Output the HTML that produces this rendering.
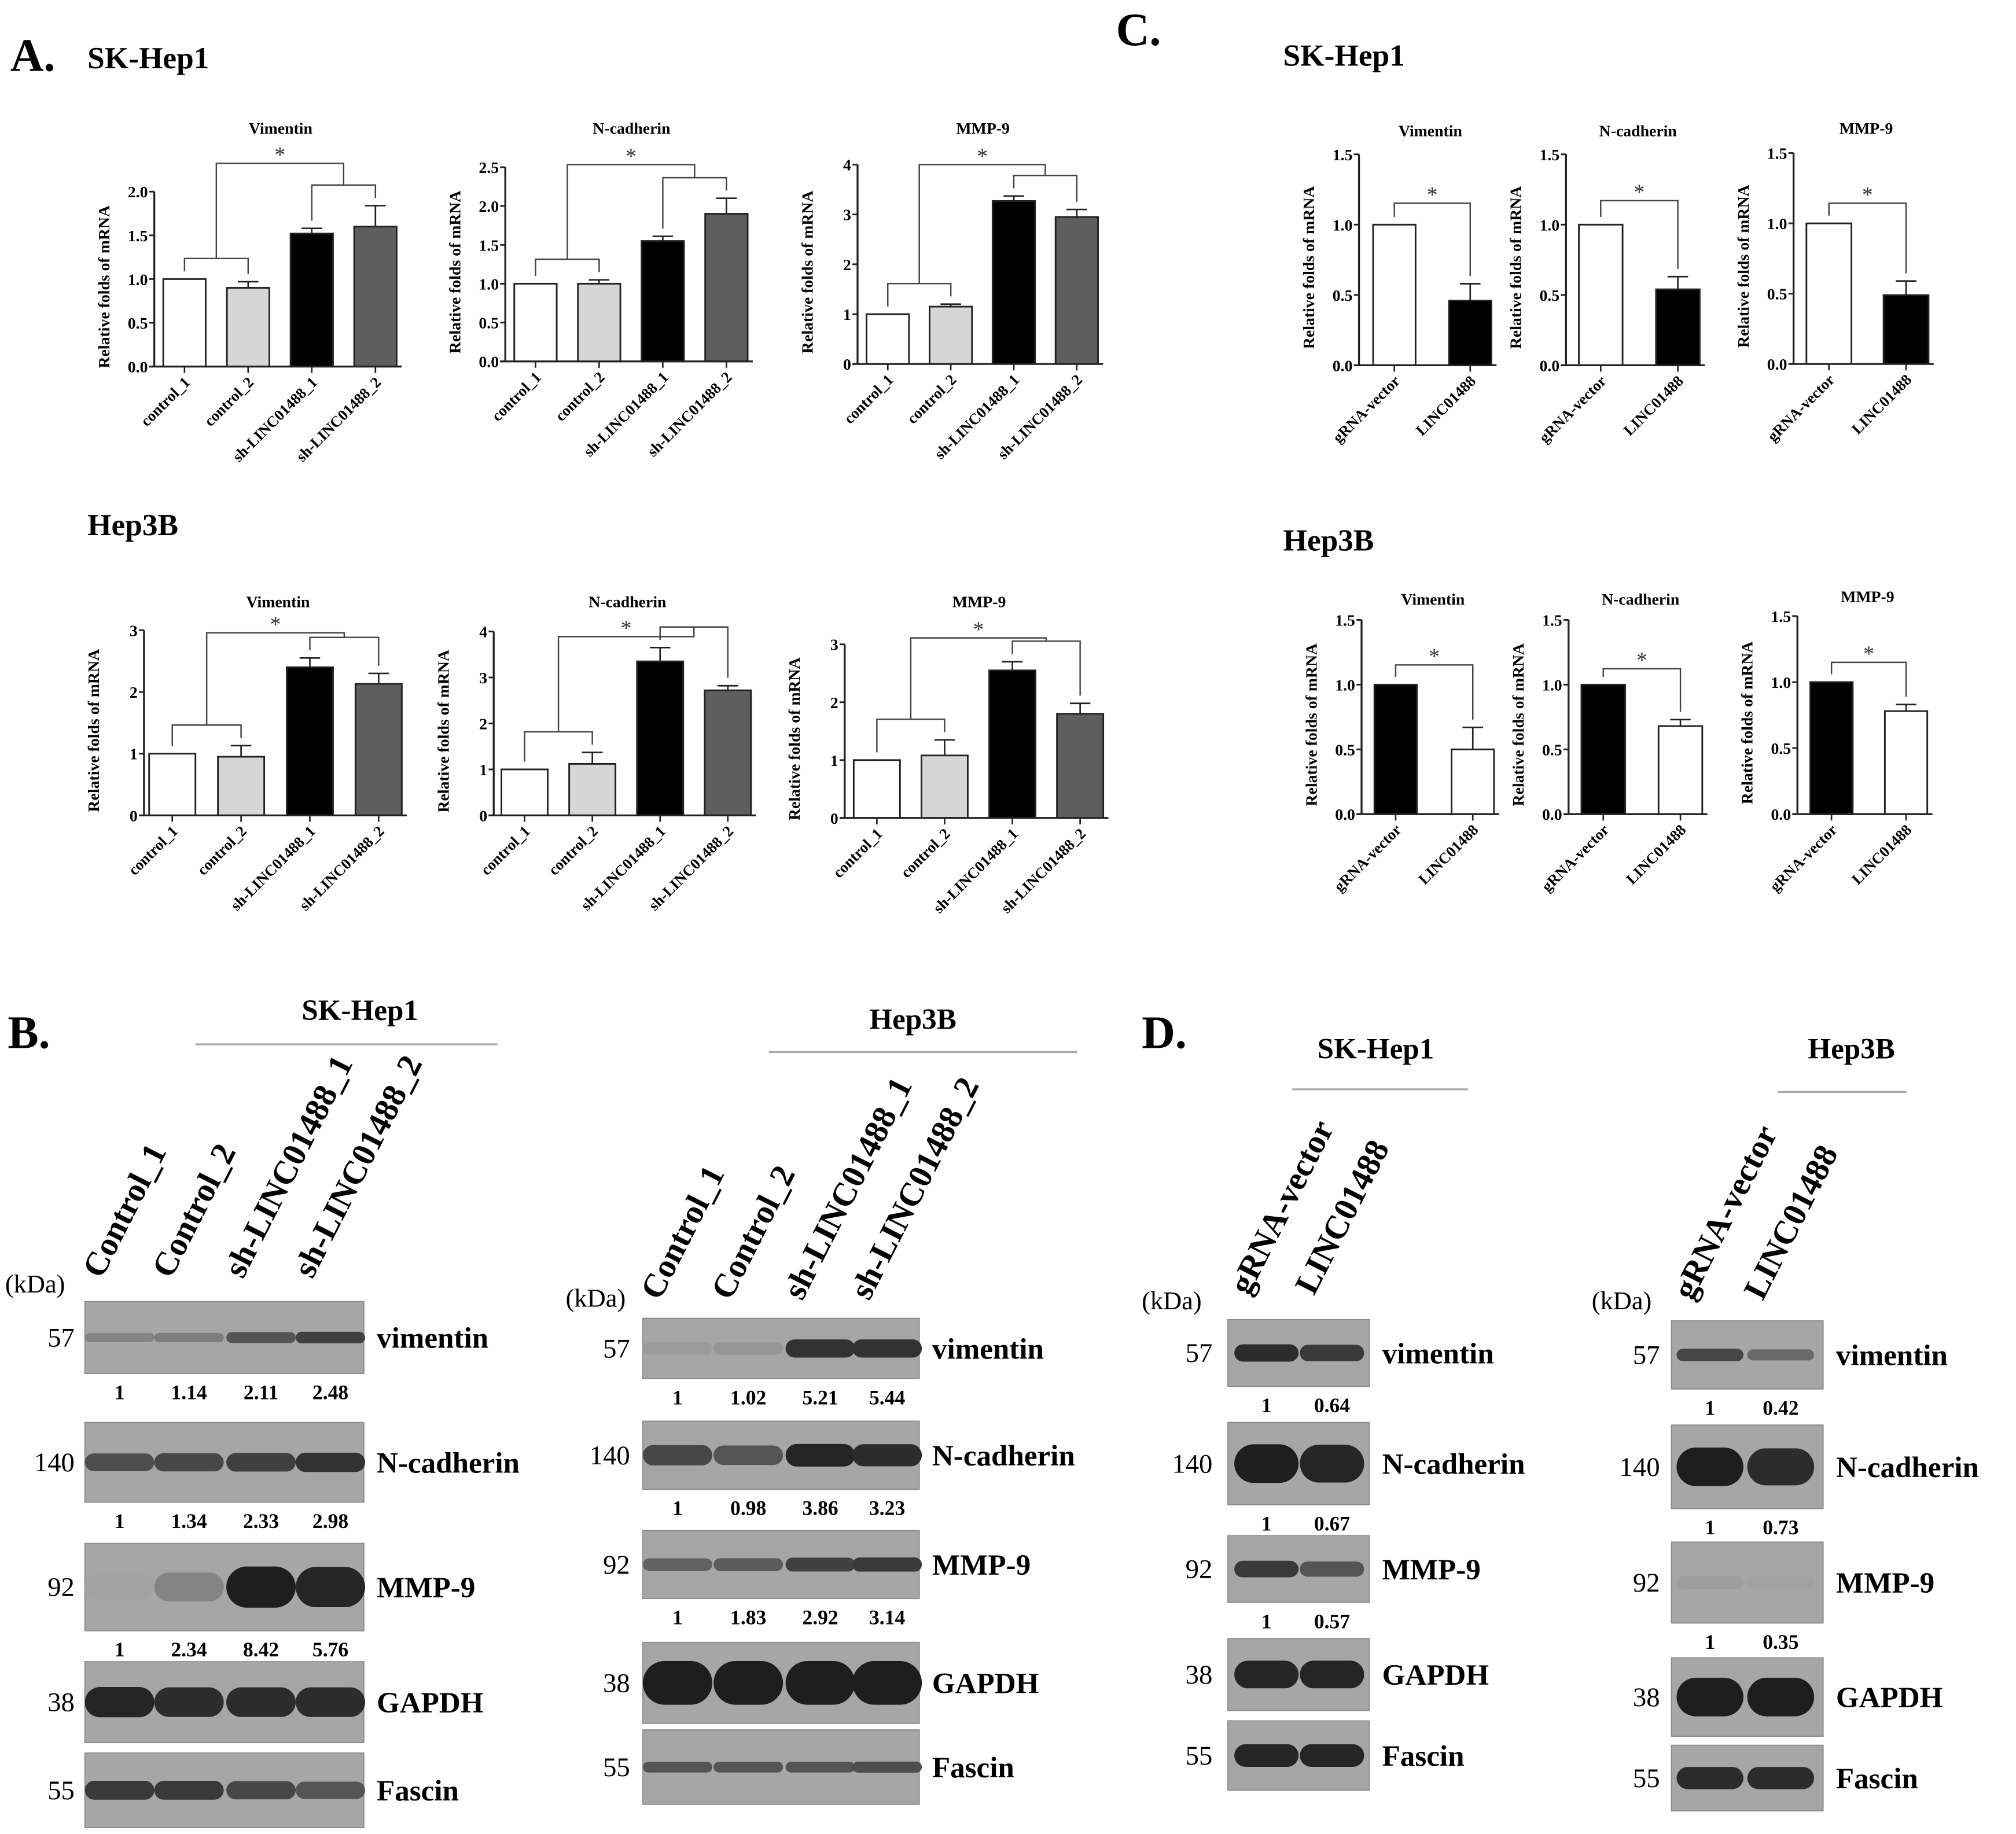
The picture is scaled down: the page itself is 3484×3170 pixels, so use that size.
<!DOCTYPE html>
<html><head><meta charset="utf-8"><style>
html,body{margin:0;padding:0;background:#fff}
svg{display:block}
text{font-family:"Liberation Serif",serif}
</style></head><body>
<svg id="fig" xmlns="http://www.w3.org/2000/svg" width="3484" height="3170" viewBox="0 0 1568 1426" preserveAspectRatio="none">
<g id="root"></g>
</svg>
<script>
// ---- Chart data (panel A) ----
const catsA = ["control_1","control_2","sh-LINC01488_1","sh-LINC01488_2"];
const fillsA = ["#ffffff","#d6d6d6","#000000","#5e5e5e"];
const skVimVals = [1.0, 0.90, 1.52, 1.60];
const skVimErr = [0.0, 0.07, 0.06, 0.24];
const skNcadVals = [1.0, 1.0, 1.55, 1.90];
const skNcadErr = [0.0, 0.05, 0.06, 0.20];
const skMmpVals = [1.0, 1.15, 3.27, 2.95];
const skMmpErr = [0.0, 0.05, 0.10, 0.15];
const h3Vim = [1.0, 0.95, 2.40, 2.13];
const h3VimErr = [0.0, 0.18, 0.15, 0.17];
const h3Ncad = [1.0, 1.12, 3.35, 2.72];
const h3NcadErr = [0.0, 0.25, 0.30, 0.10];
const h3Mmp = [1.0, 1.08, 2.55, 1.80];
const h3MmpErr = [0.0, 0.27, 0.15, 0.18];
const ticks20 = [0,0.5,1.0,1.5,2.0];
const ticks25 = [0,0.5,1.0,1.5,2.0,2.5];
const ticks4 = [0,1,2,3,4];
const ticks3 = [0,1,2,3];
const ticks15 = [0,0.5,1.0,1.5];
// ---- Chart data (panel C) ----
const catsC = ["gRNA-vector","LINC01488"];
const cSkVim = [1.0, 0.46];
const cSkVimErr = [0, 0.12];
const cSkNcad = [1.0, 0.54];
const cSkNcadErr = [0, 0.09];
const cSkMmp = [1.0, 0.49];
const cSkMmpErr = [0, 0.10];
const cH3Vim = [1.0, 0.50];
const cH3VimErr = [0, 0.17];
const cH3Ncad = [1.0, 0.68];
const cH3NcadErr = [0, 0.05];
const cH3Mmp = [1.0, 0.78];
const cH3MmpErr = [0, 0.05];
// ---- Blot quantification ----
const bSkVim = ["1","1.14","2.11","2.48"];
const bSkNcad = ["1","1.34","2.33","2.98"];
const bSkMmp = ["1","2.34","8.42","5.76"];
const bH3Vim = ["1","1.02","5.21","5.44"];
const bH3Ncad = ["1","0.98","3.86","3.23"];
const bH3Mmp = ["1","1.83","2.92","3.14"];
const dSkVim = ["1","0.64"];
const dSkNcad = ["1","0.67"];
const dSkMmp = ["1","0.57"];
const dH3Vim = ["1","0.42"];
const dH3Ncad = ["1","0.73"];
const dH3Mmp = ["1","0.35"];
// band darkness (0..1) per lane
const bandSkVim = [0.25,0.3,0.6,0.75];
const bandSkNcad = [0.65,0.7,0.75,0.85];
const bandSkMmp = [0.02,0.25,1,0.95];
const bandSkGapdh = [0.95,0.9,0.9,0.9];
const bandSkFascin = [0.8,0.8,0.7,0.6];
const bandH3Vim = [0.08,0.12,0.85,0.85];
const bandH3Ncad = [0.7,0.6,0.95,0.9];
const bandH3Mmp = [0.5,0.55,0.75,0.8];
const bandH3Gapdh = [1,1,1,1];
const bandH3Fascin = [0.6,0.6,0.6,0.65];
const bandDSkVim = [0.9,0.8];
const bandDSkNcad = [1,0.95];
const bandDSkMmp = [0.8,0.6];
const bandDSkGapdh = [0.95,0.95];
const bandDSkFascin = [0.95,0.95];
const bandDH3Vim = [0.7,0.45];
const bandDH3Ncad = [1,0.9];
const bandDH3Mmp = [0.06,0.03];
const bandDH3Gapdh = [1,1];
const bandDH3Fascin = [0.9,0.9];

const NS="http://www.w3.org/2000/svg";
const root=document.getElementById('root');
function mk(tag,attrs,parent){const e=document.createElementNS(NS,tag);for(const k in attrs)e.setAttribute(k,attrs[k]);(parent||root).appendChild(e);return e;}
function txt(s,x,y,size,opts,parent){opts=opts||{};const a={x:x,y:y,'font-size':size,'font-weight':opts.bold?'bold':'normal','text-anchor':opts.anchor||'start',fill:opts.fill||'#000'};if(opts.rot!==undefined)a.transform='rotate('+opts.rot+' '+x+' '+y+')';const t=mk('text',a,parent);t.textContent=s;return t;}

function chart(name,cfg){
  const g=mk('g',{});
  
  
  const ymax=cfg.ticks[cfg.ticks.length-1];
  const Y=v=>cfg.y0-v/ymax*(cfg.y0-cfg.yTop);
  const X=i=>cfg.bx0+i*cfg.gap;
  const n=cfg.vals.length;
  const xEnd=X(n-1)+cfg.bw+4;
  for(let i=0;i<n;i++){
    const r=mk('rect',{x:X(i),y:Y(cfg.vals[i]),width:cfg.bw,height:cfg.y0-Y(cfg.vals[i]),fill:cfg.fills[i],stroke:'#222','stroke-width':1.3},g);
    
    
    if(cfg.errs[i]>0){
      const cx=X(i)+cfg.bw/2,t=Y(cfg.vals[i]+cfg.errs[i]);
      mk('line',{x1:cx,x2:cx,y1:Y(cfg.vals[i]),y2:t,stroke:'#222','stroke-width':1.2},g);
      mk('line',{x1:cx-8,x2:cx+8,y1:t,y2:t,stroke:'#222','stroke-width':1.2},g);
    }
    const cx=X(i)+cfg.bw/2;
    mk('line',{x1:cx,x2:cx,y1:cfg.y0,y2:cfg.y0+5,stroke:'#222','stroke-width':1.2},g);
    const lx=cx+5,ly=cfg.y0+13;
    const l=txt(cfg.cats[i],lx,ly,cfg.catSize||12,{bold:true,anchor:'end',rot:-45},g);
    
    
  }
  mk('line',{x1:cfg.ax,x2:cfg.ax,y1:cfg.yTop,y2:cfg.y0,stroke:'#222','stroke-width':1.5},g);
  mk('line',{x1:cfg.ax-4,x2:xEnd,y1:cfg.y0,y2:cfg.y0,stroke:'#222','stroke-width':1.5},g);
  cfg.ticks.forEach(t=>{
    mk('line',{x1:cfg.ax-4,x2:cfg.ax,y1:Y(t),y2:Y(t),stroke:'#222','stroke-width':1.3},g);
    txt(cfg.dec?t.toFixed(1):String(t),cfg.ax-5,Y(t)+4.5,12.5,{bold:true,anchor:'end'},g);
  });
  const yt=txt('Relative folds of mRNA',cfg.ax-35,(cfg.y0+cfg.yTop)/2+6,12.5,{bold:true,anchor:'middle',rot:-90},g);
  
  
  const tt=txt(cfg.title,(cfg.ax+xEnd)/2+2,cfg.titleY,12.5,{bold:true,anchor:'middle'},g);
  
  
  const top=i=>Y(cfg.vals[i]+cfg.errs[i])-6;
  const st='#444';
  const c=i=>X(i)+cfg.bw/2;
  if(n===4){
    const l1=Math.min(top(0),top(1))-10, l2=Math.min(top(2),top(3))-10;
    mk('polyline',{points:`${c(0)},${top(0)} ${c(0)},${l1} ${c(1)},${l1} ${c(1)},${top(1)}`,fill:'none',stroke:st,'stroke-width':1.1},g);
    mk('polyline',{points:`${c(2)},${top(2)} ${c(2)},${l2} ${c(3)},${l2} ${c(3)},${top(3)}`,fill:'none',stroke:st,'stroke-width':1.1},g);
    const m1=(c(0)+c(1))/2,m2=(c(2)+c(3))/2,lt=cfg.sigY;
    mk('polyline',{points:`${m1},${l1} ${m1},${lt} ${m2},${lt} ${m2},${l2}`,fill:'none',stroke:st,'stroke-width':1.1},g);
    txt('*',(m1+m2)/2,lt-1,17,{anchor:'middle',fill:'#333'},g);
  } else {
    const lt=cfg.sigY;
    mk('polyline',{points:`${c(0)},${top(0)} ${c(0)},${lt} ${c(1)},${lt} ${c(1)},${top(1)}`,fill:'none',stroke:st,'stroke-width':1.1},g);
    txt('*',(c(0)+c(1))/2,lt-1,17,{anchor:'middle',fill:'#333'},g);
  }
}

chart('chart-a-skhep1-vimentin',{ax:120,y0:285,yTop:149,ticks:ticks20,dec:true,bx0:127,bw:33,gap:49.5,vals:skVimVals,errs:skVimErr,fills:fillsA,cats:catsA,title:'Vimentin',titleY:104,sigY:127});
chart('chart-a-skhep1-ncadherin',{ax:393,y0:281,yTop:130,ticks:ticks25,dec:true,bx0:400,bw:33,gap:49.5,vals:skNcadVals,errs:skNcadErr,fills:fillsA,cats:catsA,title:'N-cadherin',titleY:104,sigY:128});
chart('chart-a-skhep1-mmp9',{ax:667,y0:283,yTop:128,ticks:ticks4,dec:false,bx0:674,bw:33,gap:49,vals:skMmpVals,errs:skMmpErr,fills:fillsA,cats:catsA,title:'MMP-9',titleY:104,sigY:128});
chart('chart-a-hep3b-vimentin',{ax:112,y0:634,yTop:490,ticks:ticks3,dec:false,bx0:116,bw:36,gap:53.5,vals:h3Vim,errs:h3VimErr,fills:fillsA,cats:catsA,title:'Vimentin',titleY:472,sigY:492});
chart('chart-a-hep3b-ncadherin',{ax:384,y0:634,yTop:491,ticks:ticks4,dec:false,bx0:390,bw:36,gap:52.7,vals:h3Ncad,errs:h3NcadErr,fills:fillsA,cats:catsA,title:'N-cadherin',titleY:472,sigY:495});
chart('chart-a-hep3b-mmp9',{ax:657,y0:636,yTop:501,ticks:ticks3,dec:false,bx0:664,bw:36,gap:52.7,vals:h3Mmp,errs:h3MmpErr,fills:fillsA,cats:catsA,title:'MMP-9',titleY:472,sigY:496});
const fW=['#ffffff','#000000'], fB=['#000000','#ffffff'];
chart('chart-c-skhep1-vimentin',{ax:1057,y0:284,yTop:120,ticks:ticks15,dec:true,bx0:1068,bw:33,gap:59,vals:cSkVim,errs:cSkVimErr,fills:fW,cats:catsC,title:'Vimentin',titleY:106,sigY:158});
chart('chart-c-skhep1-ncadherin',{ax:1218,y0:284,yTop:120,ticks:ticks15,dec:true,bx0:1228,bw:34,gap:60,vals:cSkNcad,errs:cSkNcadErr,fills:fW,cats:catsC,title:'N-cadherin',titleY:106,sigY:156});
chart('chart-c-skhep1-mmp9',{ax:1395,y0:283,yTop:119,ticks:ticks15,dec:true,bx0:1405,bw:35,gap:60,vals:cSkMmp,errs:cSkMmpErr,fills:fW,cats:catsC,title:'MMP-9',titleY:104,sigY:158});
chart('chart-c-hep3b-vimentin',{ax:1059,y0:633,yTop:482,ticks:ticks15,dec:true,bx0:1069,bw:33,gap:60,vals:cH3Vim,errs:cH3VimErr,fills:fB,cats:catsC,title:'Vimentin',titleY:470,sigY:517});
chart('chart-c-hep3b-ncadherin',{ax:1220,y0:633,yTop:482,ticks:ticks15,dec:true,bx0:1230,bw:34,gap:60,vals:cH3Ncad,errs:cH3NcadErr,fills:fB,cats:catsC,title:'N-cadherin',titleY:470,sigY:520});
chart('chart-c-hep3b-mmp9',{ax:1398,y0:633,yTop:479,ticks:ticks15,dec:true,bx0:1408,bw:33,gap:58,vals:cH3Mmp,errs:cH3MmpErr,fills:fB,cats:catsC,title:'MMP-9',titleY:468,sigY:515});

[['A.',8,55,36],['C.',868,35,36],['B.',6,815,36],['D.',888,815,36]].forEach(p=>{const t=txt(p[0],p[1],p[2],p[3],{bold:true});});
[['SK-Hep1',68,53,24,'start'],['Hep3B',68,416,24,'start'],['SK-Hep1',998,51,24,'start'],['Hep3B',998,428,24,'start'],
 ['SK-Hep1',280,793,23,'middle'],['Hep3B',710,800,23,'middle'],['SK-Hep1',1070,823,23,'middle'],['Hep3B',1440,823,23,'middle']].forEach(p=>{
 const t=txt(p[0],p[1],p[2],p[3],{bold:true,anchor:p[4]});});
[[152,387,812],[598,838,818],[1005,1142,847],[1383,1483,849]].forEach(l=>mk('line',{x1:l[0],x2:l[1],y1:l[2],y2:l[2],stroke:'#aaa','stroke-width':1.5}));

function blot(name,cfg){
  const g=mk('g',{});
  
  
  txt('(kDa)',cfg.kx,cfg.kY,20,{},g);
  cfg.lanes.forEach((lab,i)=>{
    const t=txt(lab,cfg.lx[i]-14,cfg.labY,cfg.labSize||26,{bold:true,rot:-63},g);
    
    
  });
  cfg.rows.forEach(r=>{
    const box=mk('rect',{x:cfg.x0,y:r.y,width:cfg.x1-cfg.x0,height:r.h,fill:'#a6a6a6',stroke:'#8a8a8a','stroke-width':0.8},g);
    
    
    r.bands.forEach((d,i)=>{
      const c=Math.round(166-136*d);
      const bh=r.bh*(0.6+0.4*d);
      const e=mk('rect',{x:cfg.lx[i]-cfg.bandW/2,y:r.y+r.h/2-bh/2,width:cfg.bandW,height:bh,rx:Math.min(bh/2,cfg.bandW/3),ry:bh/2,fill:`rgb(${c},${c},${c})`},g);
      
      
    });
    txt(r.kda,cfg.kdaX,r.y+r.h/2+7,21,{anchor:'end'},g);
    const nl=txt(r.name,cfg.x1+10,r.y+r.h/2+8,23,{bold:true},g);
    
    
    if(r.q){r.q.forEach((v,i)=>{txt(v,cfg.lx[i],r.y+r.h+20,16,{bold:true,anchor:'middle'},g);});}
  });
}
blot('blot-b-skhep1',{x0:66,x1:283,kx:4,kY:1005,kdaX:58,labY:995,lanes:['Control_1','Control_2','sh-LINC01488_1','sh-LINC01488_2'],lx:[93,147,203,257],bandW:54,
 rows:[{name:'vimentin',kda:'57',y:1012,h:56,bh:10,bands:bandSkVim,q:bSkVim},{name:'N-cadherin',kda:'140',y:1106,h:62,bh:16,bands:bandSkNcad,q:bSkNcad},{name:'MMP-9',kda:'92',y:1200,h:68,bh:32,bands:bandSkMmp,q:bSkMmp},{name:'GAPDH',kda:'38',y:1292,h:63,bh:24,bands:bandSkGapdh},{name:'Fascin',kda:'55',y:1363,h:58,bh:16,bands:bandSkFascin}]});
blot('blot-b-hep3b',{x0:500,x1:715,kx:440,kY:1016,kdaX:490,labY:1012,lanes:['Control_1','Control_2','sh-LINC01488_1','sh-LINC01488_2'],lx:[527,582,638,690],bandW:54,
 rows:[{name:'vimentin',kda:'57',y:1025,h:47,bh:15,bands:bandH3Vim,q:bH3Vim},{name:'N-cadherin',kda:'140',y:1105,h:53,bh:18,bands:bandH3Ncad,q:bH3Ncad},{name:'MMP-9',kda:'92',y:1190,h:53,bh:12,bands:bandH3Mmp,q:bH3Mmp},{name:'GAPDH',kda:'38',y:1277,h:63,bh:34,bands:bandH3Gapdh},{name:'Fascin',kda:'55',y:1345,h:58,bh:10,bands:bandH3Fascin}]});
blot('blot-d-skhep1',{x0:955,x1:1065,kx:888,kY:1018,kdaX:943,labY:1008,lanes:['gRNA-vector','LINC01488'],lx:[985,1036],bandW:50,
 rows:[{name:'vimentin',kda:'57',y:1026,h:52,bh:14,bands:bandDSkVim,q:dSkVim},{name:'N-cadherin',kda:'140',y:1106,h:64,bh:30,bands:bandDSkNcad,q:dSkNcad},{name:'MMP-9',kda:'92',y:1194,h:52,bh:14,bands:bandDSkMmp,q:dSkMmp},{name:'GAPDH',kda:'38',y:1274,h:56,bh:22,bands:bandDSkGapdh},{name:'Fascin',kda:'55',y:1338,h:54,bh:18,bands:bandDSkFascin}]});
blot('blot-d-hep3b',{x0:1300,x1:1418,kx:1238,kY:1018,kdaX:1291,labY:1012,lanes:['gRNA-vector','LINC01488'],lx:[1330,1385],bandW:52,
 rows:[{name:'vimentin',kda:'57',y:1027,h:53,bh:11,bands:bandDH3Vim,q:dH3Vim},{name:'N-cadherin',kda:'140',y:1108,h:65,bh:30,bands:bandDH3Ncad,q:dH3Ncad},{name:'MMP-9',kda:'92',y:1199,h:63,bh:16,bands:bandDH3Mmp,q:dH3Mmp},{name:'GAPDH',kda:'38',y:1289,h:61,bh:30,bands:bandDH3Gapdh},{name:'Fascin',kda:'55',y:1357,h:51,bh:18,bands:bandDH3Fascin}]});
</script>
</body></html>
